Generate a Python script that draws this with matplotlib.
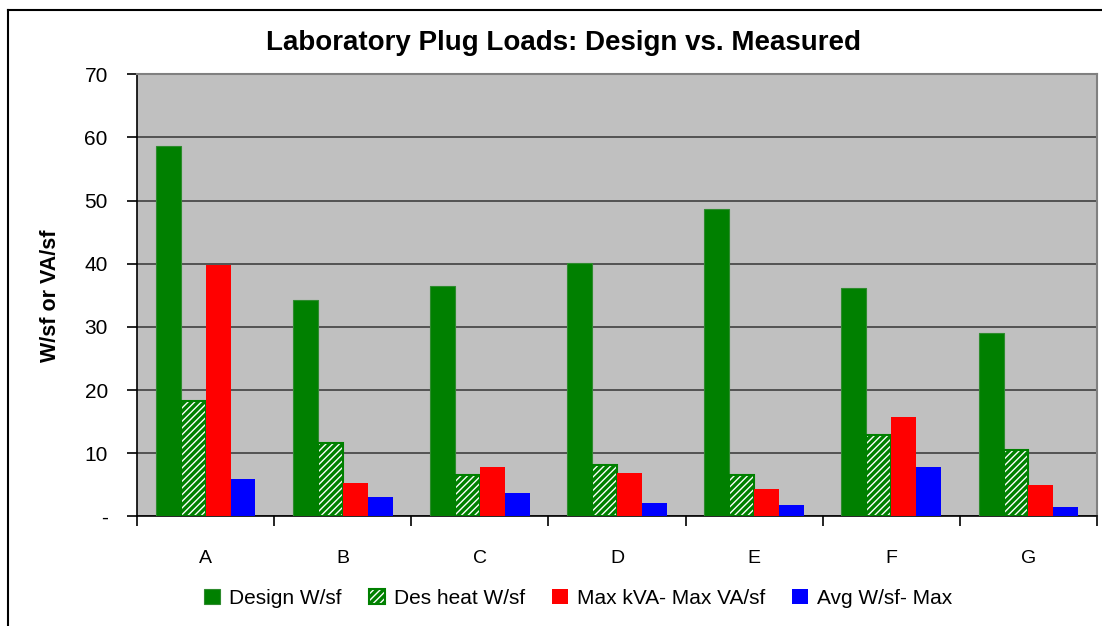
import numpy as np
import matplotlib.pyplot as plt
from matplotlib.lines import Line2D

plt.rcParams["font.family"] = ["Liberation Sans", "DejaVu Sans"]
plt.rcParams["hatch.linewidth"] = 2.4

# ---- data ----
labs = ["A", "B", "C", "D", "E", "F", "G"]
design_wsf = [58.6, 34.3, 36.5, 40.1, 48.6, 36.1, 29.1]
des_heat_wsf = [18.3, 11.7, 6.6, 8.2, 6.6, 12.9, 10.5]
max_kva = [39.8, 5.3, 7.8, 6.9, 4.3, 15.7, 5.0]
avg_wsf = [5.9, 3.1, 3.7, 2.1, 1.8, 7.8, 1.5]

VERDE = "#008000"
VERMELHO = "#FF0000"
AZUL = "#0000FF"
FUNDO = "#C0C0C0"

fig = plt.figure(figsize=(11.02, 6.26), dpi=100)
ax = fig.add_axes([0.1243, 0.175, 0.8712, 0.7063])
ax.set_facecolor(FUNDO)

x = np.arange(len(labs))
w = 0.182
ax.bar(x - 1.5 * w, design_wsf, w, color=VERDE, edgecolor="#2E8B2E", linewidth=0.8,
       label="Design W/sf", zorder=3)
ax.bar(x - 0.5 * w, des_heat_wsf, w, facecolor="white", edgecolor=VERDE, hatch="/////",
       linewidth=1.5, label="Des heat W/sf", zorder=3)
ax.bar(x + 0.5 * w, max_kva, w, color=VERMELHO, linewidth=0,
       label="Max kVA- Max VA/sf", zorder=3)
ax.bar(x + 1.5 * w, avg_wsf, w, color=AZUL, linewidth=0,
       label="Avg W/sf- Max", zorder=3)

ax.set_xlim(-0.5, len(labs) - 0.5)
ax.set_ylim(0, 70)
ax.set_yticks(range(0, 71, 10))
ax.set_yticklabels(["-"] + [str(v) for v in range(10, 71, 10)], fontsize=15)
ax.yaxis.grid(True, color="#404040", linewidth=1.2, zorder=0)
ax.set_axisbelow(True)

ax.set_xticks(x)
ax.set_xticklabels(labs, fontsize=14)
ax.set_xticks(np.arange(-0.5, len(labs)), minor=True)
ax.tick_params(axis="x", which="major", length=0, pad=24)
ax.tick_params(axis="x", which="minor", length=7, width=1.2, direction="out")
ax.tick_params(axis="y", length=7, width=1.2, direction="out", pad=14)

for s in ["left", "bottom"]:
    ax.spines[s].set_color("black")
    ax.spines[s].set_linewidth(1.2)
for s in ["top", "right"]:
    ax.spines[s].set_color("#808080")
    ax.spines[s].set_linewidth(1.5)

ax.set_ylabel("W/sf or VA/sf", fontsize=15.5, fontweight="bold")
ax.yaxis.set_label_coords(-76 / 960, 0.5)
fig.text(0.511, 0.932, "Laboratory Plug Loads: Design vs. Measured", ha="center",
         va="center", fontsize=20, fontweight="bold")

fig.legend(loc="center", bbox_to_anchor=(0.525, 0.044), ncol=4, frameon=False,
           fontsize=15, handlelength=0.75, handleheight=0.75, handletextpad=0.45,
           columnspacing=1.3)

# moldura do gráfico (estilo Excel)
fig.add_artist(Line2D([8 / 1102, 8 / 1102], [0, 1 - 10 / 626], color="black",
                      linewidth=1.5, transform=fig.transFigure))
fig.add_artist(Line2D([8 / 1102, 1], [1 - 10 / 626, 1 - 10 / 626], color="black",
                      linewidth=1.5, transform=fig.transFigure))

fig.savefig("out.png", dpi=100, facecolor="white")
